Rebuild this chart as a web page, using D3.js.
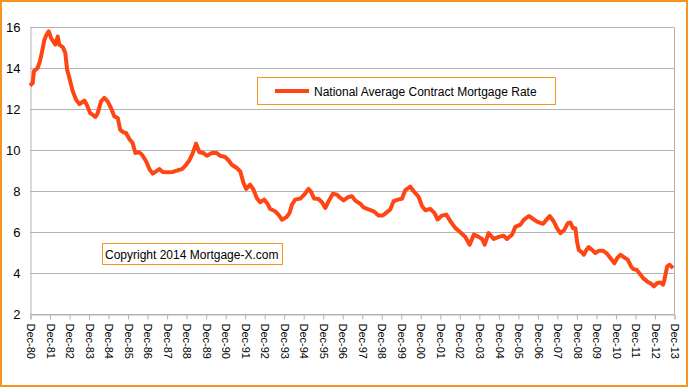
<!DOCTYPE html>
<html>
<head>
<meta charset="utf-8">
<script src="https://cdn.jsdelivr.net/npm/d3@7"></script>
<style>
  body { margin: 0; background: #fff; }
  svg { display: block; font-family: "Liberation Sans", Arial, sans-serif; }
</style>
</head>
<body>
<div id="chart"></div>
<script>
// years after Dec 1980, and the contract rate (%)
var yearsSinceDec80 = [0, 0.14, 0.2, 0.39, 0.51, 0.62, 0.74, 0.85, 0.96, 1.08, 1.3, 1.42, 1.5, 1.68, 1.81, 1.9,
  2.02, 2.19, 2.36, 2.53, 2.67, 2.79, 2.91, 3.08, 3.21, 3.35, 3.47, 3.64, 3.81, 3.98, 4.15, 4.32, 4.5, 4.62,
  4.79, 4.92, 5.09, 5.26, 5.4, 5.57, 5.74, 5.95, 6.12, 6.29, 6.46, 6.63, 6.8, 7.06, 7.32, 7.57, 7.79, 8.0,
  8.17, 8.34, 8.51, 8.68, 8.89, 9.06, 9.32, 9.57, 9.74, 10.0, 10.17, 10.34, 10.6, 10.77, 10.94, 11.08, 11.28,
  11.45, 11.62, 11.79, 12.0, 12.17, 12.31, 12.56, 12.73, 12.91, 13.15, 13.3, 13.42, 13.59, 13.85, 14.05,
  14.27, 14.39, 14.56, 14.79, 14.96, 15.13, 15.3, 15.52, 15.73, 15.9, 16.07, 16.32, 16.5, 16.67, 16.92,
  17.09, 17.35, 17.61, 17.86, 18.08, 18.29, 18.46, 18.63, 18.89, 19.06, 19.23, 19.49, 19.66, 19.91, 20.09,
  20.26, 20.51, 20.72, 20.89, 21.11, 21.33, 21.54, 21.79, 22.05, 22.31, 22.53, 22.74, 22.99, 23.16, 23.3,
  23.5, 23.76, 24.02, 24.27, 24.44, 24.7, 24.87, 25.13, 25.3, 25.56, 25.73, 25.98, 26.29, 26.46, 26.63,
  26.84, 27.01, 27.18, 27.38, 27.56, 27.69, 27.83, 27.95, 28.03, 28.12, 28.29, 28.38, 28.51, 28.63, 28.8,
  28.97, 29.14, 29.37, 29.54, 29.74, 29.95, 30.09, 30.26, 30.43, 30.63, 30.8, 30.91, 31.08, 31.25, 31.42,
  31.62, 31.83, 31.97, 32.14, 32.31, 32.44, 32.51, 32.65, 32.78, 32.95];
var rates = [13.14, 13.27, 13.84, 14.0, 14.33, 14.81, 15.38, 15.63, 15.79, 15.46, 15.14, 15.54, 15.14, 15.02, 14.73, 13.92,
  13.51, 12.86, 12.46, 12.24, 12.33, 12.41, 12.21, 11.8, 11.72, 11.61, 11.8, 12.37, 12.54, 12.37, 12.05, 11.64, 11.56, 10.99,
  10.86, 10.83, 10.54, 10.34, 9.85, 9.9, 9.77, 9.45, 9.07, 8.85, 8.96, 9.07, 8.93, 8.91, 8.93, 9.01, 9.07, 9.28,
  9.5, 9.85, 10.31, 9.89, 9.85, 9.72, 9.85, 9.85, 9.72, 9.66, 9.5, 9.28, 9.12, 8.96, 8.39, 8.1, 8.31,
  8.07, 7.66, 7.45, 7.58, 7.38, 7.12, 7.01, 6.85, 6.6, 6.73, 6.93, 7.33, 7.58, 7.63, 7.82,
  8.1, 7.98, 7.63, 7.61, 7.45, 7.17, 7.5, 7.87, 7.82, 7.66, 7.54, 7.71, 7.74, 7.53, 7.38,
  7.2, 7.1, 7.01, 6.8, 6.8, 6.97, 7.1, 7.5, 7.59, 7.62, 8.04, 8.21, 7.99, 7.72, 7.26,
  7.06, 7.13, 6.93, 6.61, 6.8, 6.85, 6.53, 6.2, 5.99, 5.76, 5.38, 5.87, 5.76, 5.66, 5.38,
  5.95, 5.66, 5.76, 5.82, 5.66, 5.87, 6.25, 6.36, 6.59, 6.78, 6.67, 6.51, 6.4, 6.59, 6.78,
  6.51, 6.18, 5.94, 6.1, 6.43, 6.46, 6.18, 6.18, 5.54, 5.13, 5.0, 4.89, 5.13, 5.26, 5.13,
  4.97, 5.08, 5.08, 4.97, 4.73, 4.48, 4.73, 4.89, 4.77, 4.65, 4.32, 4.19, 4.16, 3.96, 3.75,
  3.59, 3.48, 3.35, 3.51, 3.54, 3.43, 3.67, 4.32, 4.4, 4.24];
var tickLabels = ["Dec-80", "Dec-81", "Dec-82", "Dec-83", "Dec-84", "Dec-85", "Dec-86", "Dec-87", "Dec-88",
  "Dec-89", "Dec-90", "Dec-91", "Dec-92", "Dec-93", "Dec-94", "Dec-95", "Dec-96", "Dec-97", "Dec-98",
  "Dec-99", "Dec-00", "Dec-01", "Dec-02", "Dec-03", "Dec-04", "Dec-05", "Dec-06", "Dec-07", "Dec-08",
  "Dec-09", "Dec-10", "Dec-11", "Dec-12", "Dec-13"];
var yTicks = [2, 4, 6, 8, 10, 12, 14, 16];
var legendLabel = "National Average Contract Mortgage Rate";
var copyrightLabel = "Copyright 2014 Mortgage-X.com";

var W = 688, H = 387;
var plotLeft = 30, plotRight = 674, plotTop = 27, plotBottom = 314;
var lineColor = "#ff4514", frameColor = "#f7941d", gridColor = "#b3b3b3";

var svg = d3.select("#chart").append("svg")
  .attr("width", W)
  .attr("height", H);

svg.append("rect")
  .attr("x", 1).attr("y", 1)
  .attr("width", W - 2).attr("height", H - 2)
  .attr("fill", "#fff")
  .attr("stroke", frameColor)
  .attr("stroke-width", 2);

var xScale = d3.scaleLinear().domain([0, tickLabels.length - 1]).range([plotLeft, plotRight]);
var yScale = d3.scaleLinear().domain([2, 16]).range([plotBottom, plotTop]);

// horizontal gridlines
svg.append("g")
  .selectAll("line")
  .data(yTicks)
  .enter()
  .append("line")
    .attr("x1", plotLeft).attr("x2", plotRight)
    .attr("y1", function (d) { return Math.round(yScale(d)) + 0.5 })
    .attr("y2", function (d) { return Math.round(yScale(d)) + 0.5 })
    .attr("stroke", gridColor);

// right edge of plot area
svg.append("line")
  .attr("x1", plotRight + 0.5).attr("x2", plotRight + 0.5)
  .attr("y1", plotTop + 0.5).attr("y2", plotBottom + 0.5)
  .attr("stroke", gridColor);

// y axis
var yAxis = svg.append("g")
  .attr("transform", "translate(" + (plotLeft + 0.5) + ",0.5)")
  .call(d3.axisLeft(yScale).tickValues(yTicks).tickSize(0).tickPadding(10).tickFormat(d3.format("d")));
yAxis.select(".domain").attr("stroke", gridColor);
yAxis.selectAll("text")
  .style("font-size", "13px")
  .attr("fill", "#000");

// x axis
var xAxis = svg.append("g")
  .attr("transform", "translate(0.5," + (plotBottom + 0.5) + ")")
  .call(d3.axisBottom(xScale).tickValues(d3.range(tickLabels.length))
    .tickSize(5).tickFormat(function (i) { return tickLabels[i] }));
xAxis.select(".domain").attr("stroke", gridColor);
xAxis.selectAll(".tick line").attr("stroke", gridColor);
xAxis.selectAll("text")
  .style("font-size", "11px")
  .attr("fill", "#000")
  .attr("text-anchor", "start")
  .attr("transform", "rotate(90)")
  .attr("x", 9)
  .attr("y", 0)
  .attr("dy", "0.35em");

// the rate line
var line = d3.line()
  .x(function (d) { return xScale(d[0]) })
  .y(function (d) { return yScale(d[1]) });

svg.append("path")
  .datum(d3.zip(yearsSinceDec80, rates))
  .attr("fill", "none")
  .attr("stroke", lineColor)
  .attr("stroke-width", 4)
  .attr("stroke-linejoin", "round")
  .attr("d", line);

// legend
svg.append("rect")
  .attr("x", 257.5).attr("y", 77.5)
  .attr("width", 298).attr("height", 27)
  .attr("fill", "#fff")
  .attr("stroke", frameColor);
svg.append("line")
  .attr("x1", 275).attr("x2", 309)
  .attr("y1", 91).attr("y2", 91)
  .attr("stroke", lineColor)
  .attr("stroke-width", 4);
svg.append("text")
  .attr("x", 314).attr("y", 95.5)
  .style("font-size", "12px")
  .text(legendLabel);

// copyright note
svg.append("rect")
  .attr("x", 102.5).attr("y", 243.5)
  .attr("width", 180).attr("height", 21)
  .attr("fill", "#fff")
  .attr("stroke", frameColor);
svg.append("text")
  .attr("x", 105).attr("y", 258.5)
  .style("font-size", "12px")
  .text(copyrightLabel);
</script>
</body>
</html>
